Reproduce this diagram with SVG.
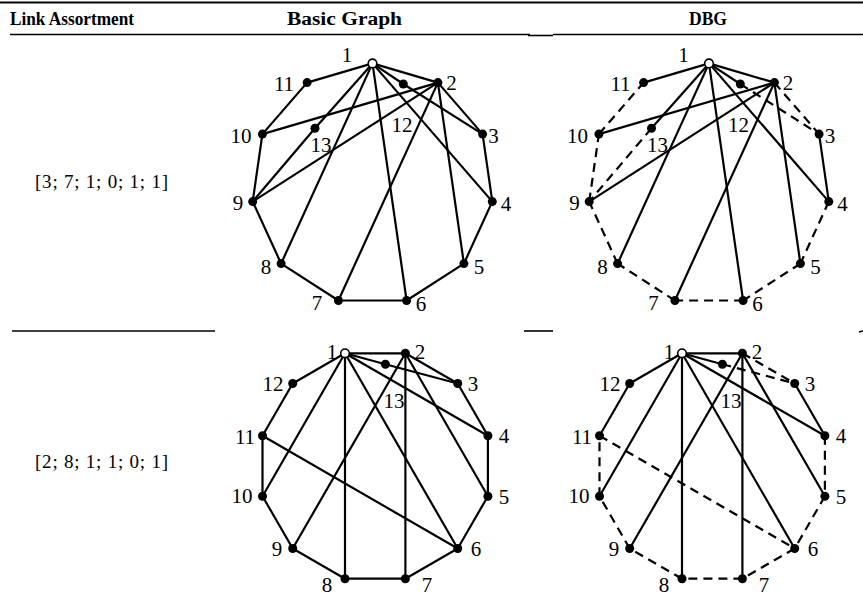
<svg xmlns="http://www.w3.org/2000/svg" width="863" height="607" viewBox="0 0 863 607">
<style>
.e{stroke:#000;stroke-width:2.2;fill:none}
.d{stroke-dasharray:9 6}
.n{fill:#000}
.o{fill:#fff;stroke:#000;stroke-width:1.6}
.lb{font-family:"Liberation Serif",serif;font-size:21px;text-anchor:middle;fill:#000}
.hd{font-family:"Liberation Serif",serif;font-weight:bold;font-size:18.5px;fill:#000}
.rl{font-family:"Liberation Serif",serif;font-size:19px;fill:#000}
.rule{stroke:#000;fill:none}
</style>
<rect width="863" height="607" fill="#fff"/>
<g id="table">
<line class="rule" x1="0" y1="2.5" x2="863" y2="2.5" stroke-width="2.2"/>
<line class="rule" x1="10" y1="34.5" x2="530" y2="34.5" stroke-width="1.4"/>
<line class="rule" x1="528" y1="35.5" x2="553" y2="35.5" stroke-width="1.6"/>
<line class="rule" x1="553" y1="34.5" x2="863" y2="34.5" stroke-width="1.4"/>
<line class="rule" x1="12" y1="331" x2="215" y2="331" stroke-width="1.6"/>
<line class="rule" x1="524" y1="331" x2="553" y2="331" stroke-width="1.6"/>
<line class="rule" x1="859" y1="332" x2="863" y2="331" stroke-width="1.4"/>
<text class="hd" x="10" y="25" textLength="124" lengthAdjust="spacingAndGlyphs">Link Assortment</text>
<text class="hd" x="287" y="25" textLength="115" lengthAdjust="spacingAndGlyphs">Basic Graph</text>
<text class="hd" x="689" y="25" textLength="38" lengthAdjust="spacingAndGlyphs">DBG</text>
<text class="rl" x="35" y="188" textLength="133" lengthAdjust="spacing">[3; 7; 1; 0; 1; 1]</text>
<text class="rl" x="35" y="468" textLength="133" lengthAdjust="spacing">[2; 8; 1; 1; 0; 1]</text>
</g>

<!-- Row 1 Basic Graph -->
<g id="r1-basic">
<g id="r1b-edges" class="e">
<line x1="372.5" y1="63.4" x2="437.9" y2="82.6"/>
<line x1="437.9" y1="82.6" x2="482.6" y2="134.1"/>
<line x1="482.6" y1="134.1" x2="492.3" y2="201.6"/>
<line x1="492.3" y1="201.6" x2="463.9" y2="263.6"/>
<line x1="463.9" y1="263.6" x2="406.6" y2="300.5"/>
<line x1="406.6" y1="300.5" x2="338.4" y2="300.5"/>
<line x1="338.4" y1="300.5" x2="281.1" y2="263.6"/>
<line x1="281.1" y1="263.6" x2="252.7" y2="201.6"/>
<line x1="252.7" y1="201.6" x2="262.4" y2="134.1"/>
<line x1="262.4" y1="134.1" x2="307.1" y2="82.6"/>
<line x1="307.1" y1="82.6" x2="372.5" y2="63.4"/>
<line x1="372.5" y1="63.4" x2="403.3" y2="84"/>
<line x1="403.3" y1="84" x2="482.6" y2="134.1"/>
<line x1="372.5" y1="63.4" x2="315" y2="128.3"/>
<line x1="315" y1="128.3" x2="252.7" y2="201.6"/>
<line x1="372.5" y1="63.4" x2="281.1" y2="263.6"/>
<line x1="372.5" y1="63.4" x2="406.6" y2="300.5"/>
<line x1="372.5" y1="63.4" x2="492.3" y2="201.6"/>
<line x1="437.9" y1="82.6" x2="262.4" y2="134.1"/>
<line x1="437.9" y1="82.6" x2="252.7" y2="201.6"/>
<line x1="437.9" y1="82.6" x2="338.4" y2="300.5"/>
<line x1="437.9" y1="82.6" x2="463.9" y2="263.6"/>
</g>
<g id="r1b-n1"><circle class="o" cx="372.5" cy="63.4" r="4.3"/><text class="lb" x="347" y="62">1</text></g>
<g id="r1b-n2"><circle class="n" cx="437.9" cy="82.6" r="4.5"/><text class="lb" x="451.5" y="90">2</text></g>
<g id="r1b-n3"><circle class="n" cx="482.6" cy="134.1" r="4.5"/><text class="lb" x="493.5" y="143">3</text></g>
<g id="r1b-n4"><circle class="n" cx="492.3" cy="201.6" r="4.5"/><text class="lb" x="506" y="211">4</text></g>
<g id="r1b-n5"><circle class="n" cx="463.9" cy="263.6" r="4.5"/><text class="lb" x="479" y="274">5</text></g>
<g id="r1b-n6"><circle class="n" cx="406.6" cy="300.5" r="4.5"/><text class="lb" x="421" y="311">6</text></g>
<g id="r1b-n7"><circle class="n" cx="338.4" cy="300.5" r="4.5"/><text class="lb" x="317" y="310">7</text></g>
<g id="r1b-n8"><circle class="n" cx="281.1" cy="263.6" r="4.5"/><text class="lb" x="266" y="274">8</text></g>
<g id="r1b-n9"><circle class="n" cx="252.7" cy="201.6" r="4.5"/><text class="lb" x="238" y="210">9</text></g>
<g id="r1b-n10"><circle class="n" cx="262.4" cy="134.1" r="4.5"/><text class="lb" x="241" y="143">10</text></g>
<g id="r1b-n11"><circle class="n" cx="307.1" cy="82.6" r="4.5"/><text class="lb" x="284" y="91">11</text></g>
<g id="r1b-n12"><circle class="n" cx="403.3" cy="84" r="4.5"/><text class="lb" x="402" y="132">12</text></g>
<g id="r1b-n13"><circle class="n" cx="315" cy="128.3" r="4.5"/><text class="lb" x="321" y="152">13</text></g>
</g>

<!-- Row 1 DBG -->
<g id="r1-dbg" transform="translate(336.5 0)">
<g id="r1d-edges" class="e">
<line x1="372.5" y1="63.4" x2="437.9" y2="82.6"/>
<line class="d" x1="437.9" y1="82.6" x2="482.6" y2="134.1"/>
<line x1="482.6" y1="134.1" x2="492.3" y2="201.6"/>
<line class="d" x1="492.3" y1="201.6" x2="463.9" y2="263.6"/>
<line class="d" x1="463.9" y1="263.6" x2="406.6" y2="300.5"/>
<line class="d" x1="406.6" y1="300.5" x2="338.4" y2="300.5"/>
<line class="d" x1="338.4" y1="300.5" x2="281.1" y2="263.6"/>
<line class="d" x1="281.1" y1="263.6" x2="252.7" y2="201.6"/>
<line class="d" x1="252.7" y1="201.6" x2="262.4" y2="134.1"/>
<line class="d" x1="262.4" y1="134.1" x2="307.1" y2="82.6"/>
<line x1="307.1" y1="82.6" x2="372.5" y2="63.4"/>
<line x1="372.5" y1="63.4" x2="403.8" y2="84"/>
<line class="d" x1="403.8" y1="84" x2="482.6" y2="134.1"/>
<line x1="372.5" y1="63.4" x2="315" y2="128.3"/>
<line class="d" x1="315" y1="128.3" x2="252.7" y2="201.6"/>
<line x1="372.5" y1="63.4" x2="281.1" y2="263.6"/>
<line x1="372.5" y1="63.4" x2="406.6" y2="300.5"/>
<line x1="372.5" y1="63.4" x2="492.3" y2="201.6"/>
<line x1="437.9" y1="82.6" x2="262.4" y2="134.1"/>
<line x1="437.9" y1="82.6" x2="252.7" y2="201.6"/>
<line x1="437.9" y1="82.6" x2="338.4" y2="300.5"/>
<line x1="437.9" y1="82.6" x2="463.9" y2="263.6"/>
</g>
<g id="r1d-n1"><circle class="o" cx="372.5" cy="63.4" r="4.3"/><text class="lb" x="347" y="62">1</text></g>
<g id="r1d-n2"><circle class="n" cx="437.9" cy="82.6" r="4.5"/><text class="lb" x="451.5" y="90">2</text></g>
<g id="r1d-n3"><circle class="n" cx="482.6" cy="134.1" r="4.5"/><text class="lb" x="493.5" y="143">3</text></g>
<g id="r1d-n4"><circle class="n" cx="492.3" cy="201.6" r="4.5"/><text class="lb" x="506" y="211">4</text></g>
<g id="r1d-n5"><circle class="n" cx="463.9" cy="263.6" r="4.5"/><text class="lb" x="479" y="274">5</text></g>
<g id="r1d-n6"><circle class="n" cx="406.6" cy="300.5" r="4.5"/><text class="lb" x="421" y="311">6</text></g>
<g id="r1d-n7"><circle class="n" cx="338.4" cy="300.5" r="4.5"/><text class="lb" x="317" y="310">7</text></g>
<g id="r1d-n8"><circle class="n" cx="281.1" cy="263.6" r="4.5"/><text class="lb" x="266" y="274">8</text></g>
<g id="r1d-n9"><circle class="n" cx="252.7" cy="201.6" r="4.5"/><text class="lb" x="238" y="210">9</text></g>
<g id="r1d-n10"><circle class="n" cx="262.4" cy="134.1" r="4.5"/><text class="lb" x="241" y="143">10</text></g>
<g id="r1d-n11"><circle class="n" cx="307.1" cy="82.6" r="4.5"/><text class="lb" x="284" y="91">11</text></g>
<g id="r1d-n12"><circle class="n" cx="403.8" cy="84" r="4.5"/><text class="lb" x="402" y="132">12</text></g>
<g id="r1d-n13"><circle class="n" cx="315" cy="128.3" r="4.5"/><text class="lb" x="321" y="152">13</text></g>
</g>

<!-- Row 2 Basic Graph -->
<g id="r2-basic">
<g id="r2b-edges" class="e">
<line x1="345" y1="353.3" x2="405.4" y2="353.3"/>
<line x1="405.4" y1="353.3" x2="457.7" y2="383.5"/>
<line x1="457.7" y1="383.5" x2="487.9" y2="435.8"/>
<line x1="487.9" y1="435.8" x2="487.9" y2="496.2"/>
<line x1="487.9" y1="496.2" x2="457.7" y2="548.5"/>
<line x1="457.7" y1="548.5" x2="405.4" y2="578.7"/>
<line x1="405.4" y1="578.7" x2="345" y2="578.7"/>
<line x1="345" y1="578.7" x2="292.7" y2="548.5"/>
<line x1="292.7" y1="548.5" x2="262.5" y2="496.2"/>
<line x1="262.5" y1="496.2" x2="262.5" y2="435.8"/>
<line x1="262.5" y1="435.8" x2="292.7" y2="383.5"/>
<line x1="292.7" y1="383.5" x2="345" y2="353.3"/>
<line x1="345" y1="353.3" x2="385.4" y2="364.2"/>
<line x1="385.4" y1="364.2" x2="457.7" y2="383.5"/>
<line x1="345" y1="353.3" x2="262.5" y2="496.2"/>
<line x1="345" y1="353.3" x2="345" y2="578.7"/>
<line x1="345" y1="353.3" x2="457.7" y2="548.5"/>
<line x1="345" y1="353.3" x2="487.9" y2="435.8"/>
<line x1="405.4" y1="353.3" x2="292.7" y2="548.5"/>
<line x1="405.4" y1="353.3" x2="405.4" y2="578.7"/>
<line x1="405.4" y1="353.3" x2="487.9" y2="496.2"/>
<line x1="262.5" y1="435.8" x2="457.7" y2="548.5"/>
</g>
<g id="r2b-n1"><circle class="o" cx="345" cy="353.3" r="4.3"/><text class="lb" x="332" y="359">1</text></g>
<g id="r2b-n2"><circle class="n" cx="405.4" cy="353.3" r="4.5"/><text class="lb" x="420" y="359">2</text></g>
<g id="r2b-n3"><circle class="n" cx="457.7" cy="383.5" r="4.5"/><text class="lb" x="473" y="391">3</text></g>
<g id="r2b-n4"><circle class="n" cx="487.9" cy="435.8" r="4.5"/><text class="lb" x="504" y="443">4</text></g>
<g id="r2b-n5"><circle class="n" cx="487.9" cy="496.2" r="4.5"/><text class="lb" x="504" y="504">5</text></g>
<g id="r2b-n6"><circle class="n" cx="457.7" cy="548.5" r="4.5"/><text class="lb" x="476" y="556">6</text></g>
<g id="r2b-n7"><circle class="n" cx="405.4" cy="578.7" r="4.5"/><text class="lb" x="427" y="592">7</text></g>
<g id="r2b-n8"><circle class="n" cx="345" cy="578.7" r="4.5"/><text class="lb" x="327" y="592">8</text></g>
<g id="r2b-n9"><circle class="n" cx="292.7" cy="548.5" r="4.5"/><text class="lb" x="277" y="556">9</text></g>
<g id="r2b-n10"><circle class="n" cx="262.5" cy="496.2" r="4.5"/><text class="lb" x="242" y="503">10</text></g>
<g id="r2b-n11"><circle class="n" cx="262.5" cy="435.8" r="4.5"/><text class="lb" x="245" y="444">11</text></g>
<g id="r2b-n12"><circle class="n" cx="292.7" cy="383.5" r="4.5"/><text class="lb" x="273" y="391">12</text></g>
<g id="r2b-n13"><circle class="n" cx="385.4" cy="364.2" r="4.5"/><text class="lb" x="394" y="408">13</text></g>
</g>

<!-- Row 2 DBG -->
<g id="r2-dbg" transform="translate(337 0)">
<g id="r2d-edges" class="e">
<line x1="345" y1="353.3" x2="405.4" y2="353.3"/>
<line class="d" x1="405.4" y1="353.3" x2="457.7" y2="383.5"/>
<line x1="457.7" y1="383.5" x2="487.9" y2="435.8"/>
<line class="d" x1="487.9" y1="435.8" x2="487.9" y2="496.2"/>
<line class="d" x1="487.9" y1="496.2" x2="457.7" y2="548.5"/>
<line class="d" x1="457.7" y1="548.5" x2="405.4" y2="578.7"/>
<line class="d" x1="405.4" y1="578.7" x2="345" y2="578.7"/>
<line class="d" x1="345" y1="578.7" x2="292.7" y2="548.5"/>
<line class="d" x1="292.7" y1="548.5" x2="262.5" y2="496.2"/>
<line class="d" x1="262.5" y1="496.2" x2="262.5" y2="435.8"/>
<line x1="262.5" y1="435.8" x2="292.7" y2="383.5"/>
<line x1="292.7" y1="383.5" x2="345" y2="353.3"/>
<line x1="345" y1="353.3" x2="385.4" y2="364.2"/>
<line class="d" x1="385.4" y1="364.2" x2="457.7" y2="383.5"/>
<line x1="345" y1="353.3" x2="262.5" y2="496.2"/>
<line x1="345" y1="353.3" x2="345" y2="578.7"/>
<line x1="345" y1="353.3" x2="457.7" y2="548.5"/>
<line x1="345" y1="353.3" x2="487.9" y2="435.8"/>
<line x1="405.4" y1="353.3" x2="292.7" y2="548.5"/>
<line x1="405.4" y1="353.3" x2="405.4" y2="578.7"/>
<line x1="405.4" y1="353.3" x2="487.9" y2="496.2"/>
<line class="d" x1="262.5" y1="435.8" x2="457.7" y2="548.5"/>
</g>
<g id="r2d-n1"><circle class="o" cx="345" cy="353.3" r="4.3"/><text class="lb" x="332" y="359">1</text></g>
<g id="r2d-n2"><circle class="n" cx="405.4" cy="353.3" r="4.5"/><text class="lb" x="420" y="359">2</text></g>
<g id="r2d-n3"><circle class="n" cx="457.7" cy="383.5" r="4.5"/><text class="lb" x="473" y="391">3</text></g>
<g id="r2d-n4"><circle class="n" cx="487.9" cy="435.8" r="4.5"/><text class="lb" x="504" y="443">4</text></g>
<g id="r2d-n5"><circle class="n" cx="487.9" cy="496.2" r="4.5"/><text class="lb" x="504" y="504">5</text></g>
<g id="r2d-n6"><circle class="n" cx="457.7" cy="548.5" r="4.5"/><text class="lb" x="476" y="556">6</text></g>
<g id="r2d-n7"><circle class="n" cx="405.4" cy="578.7" r="4.5"/><text class="lb" x="427" y="592">7</text></g>
<g id="r2d-n8"><circle class="n" cx="345" cy="578.7" r="4.5"/><text class="lb" x="327" y="592">8</text></g>
<g id="r2d-n9"><circle class="n" cx="292.7" cy="548.5" r="4.5"/><text class="lb" x="277" y="556">9</text></g>
<g id="r2d-n10"><circle class="n" cx="262.5" cy="496.2" r="4.5"/><text class="lb" x="242" y="503">10</text></g>
<g id="r2d-n11"><circle class="n" cx="262.5" cy="435.8" r="4.5"/><text class="lb" x="245" y="444">11</text></g>
<g id="r2d-n12"><circle class="n" cx="292.7" cy="383.5" r="4.5"/><text class="lb" x="273" y="391">12</text></g>
<g id="r2d-n13"><circle class="n" cx="385.4" cy="364.2" r="4.5"/><text class="lb" x="394" y="408">13</text></g>
</g>
</svg>
